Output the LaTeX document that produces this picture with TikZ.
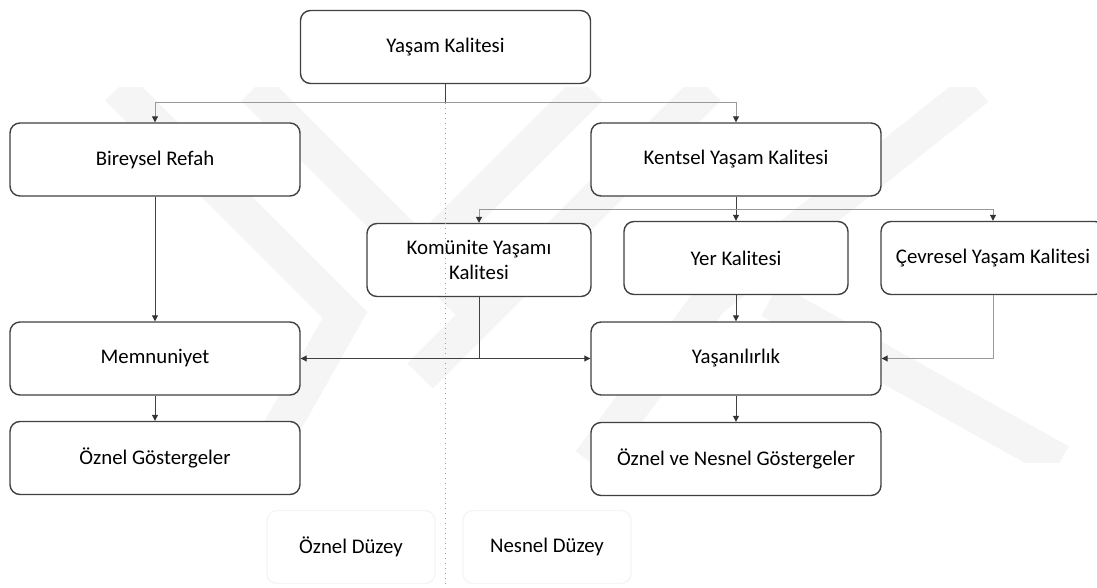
\documentclass[tikz,border=0pt]{standalone}
\usepackage{fontspec}
\setmainfont{Carlito}
\usetikzlibrary{arrows.meta}

\begin{document}
\begin{tikzpicture}[x=0.5pt, y=-0.5pt,
    box/.style={draw=black!75, line width=0.7pt, rounded corners=5pt, fill=white,
      minimum width=145pt, minimum height=36.5pt, align=center, inner sep=2pt,
      font=\fontsize{10.4pt}{12.2pt}\selectfont},
    smallbox/.style={box, minimum width=112pt},
    faintbox/.style={box, draw=black!4, minimum width=84pt, fill=none},
    line/.style={draw=black!75, line width=0.5pt},
    lightline/.style={draw=black!40, line width=0.5pt},
    tip/.style={-{Triangle[length=3pt, width=3pt, color=black!80]}},
    wmband/.style={draw=black!4, line width=18pt}]
    \useasboundingbox (0,0) rectangle (1097,588);
    \clip (0,0) rectangle (1097,588);

    % watermark
    \begin{scope}
      \clip (0,88) rectangle (1097,462);
      \draw[wmband] (118,88) -- (345,315) -- (262,462);
      \draw[wmband] (254,88) -- (470,304);
      \draw[wmband] (590,88) -- (400,278);
      \draw[wmband] (708,88) -- (420,376);
      \draw[wmband] (977,88) -- (710,300) -- (590,462);
      \draw[wmband] (770,300) -- (1060,462);
    \end{scope}

    % boxes
    \node[box] (yk) at (445.5,47) {Yaşam Kalitesi};
    \node[box] (br) at (155,159.5) {Bireysel Refah};
    \node[box] (kyk) at (736,159.5) {Kentsel Yaşam Kalitesi};
    \node[smallbox] (kom) at (479,260) {Komünite Yaşamı\\Kalitesi};
    \node[smallbox] (yer) at (736,258) {Yer Kalitesi};
    \node[smallbox] (cev) at (993,258) {Çevresel Yaşam Kalitesi};
    \node[box] (mem) at (155,358.5) {Memnuniyet};
    \node[box] (yas) at (736,358.5) {Yaşanılırlık};
    \node[box] (ozg) at (155,458) {Öznel Göstergeler};
    \node[box] (ong) at (736,459) {Öznel ve Nesnel Göstergeler};
    \node[faintbox] (ozd) at (351,547) {Öznel Düzey};
    \node[faintbox] (nsd) at (547,547) {Nesnel Düzey};

    % split points
    \coordinate (s1) at (445.5,103);
    \coordinate (s2) at (736,210);
    \coordinate (s3) at (kom.south |- yas.west);
    \coordinate (bot) at (445.5,588);

    % connectors
    \draw[line] (yk) -- (s1);
    \draw[lightline, tip] (s1) -| (br);
    \draw[lightline, tip] (s1) -| (kyk);
    \draw[lightline, dotted] (s1) -- (bot);
    \draw[line, tip] (br) -- (mem);
    \draw[line] (kyk) -- (s2);
    \draw[lightline, tip] (s2) -| (kom);
    \draw[line, tip] (s2) -- (yer);
    \draw[lightline, tip] (s2) -| (cev);
    \draw[line, tip] (yer) -- (yas);
    \draw[lightline, tip] (cev) |- (yas);
    \draw[line] (kom) -- (s3);
    \draw[line, tip] (s3) -- (mem);
    \draw[line, tip] (s3) -- (yas);
    \draw[line, tip] (mem) -- (ozg);
    \draw[line, tip] (yas) -- (ong);
  \end{tikzpicture}
\end{document}
